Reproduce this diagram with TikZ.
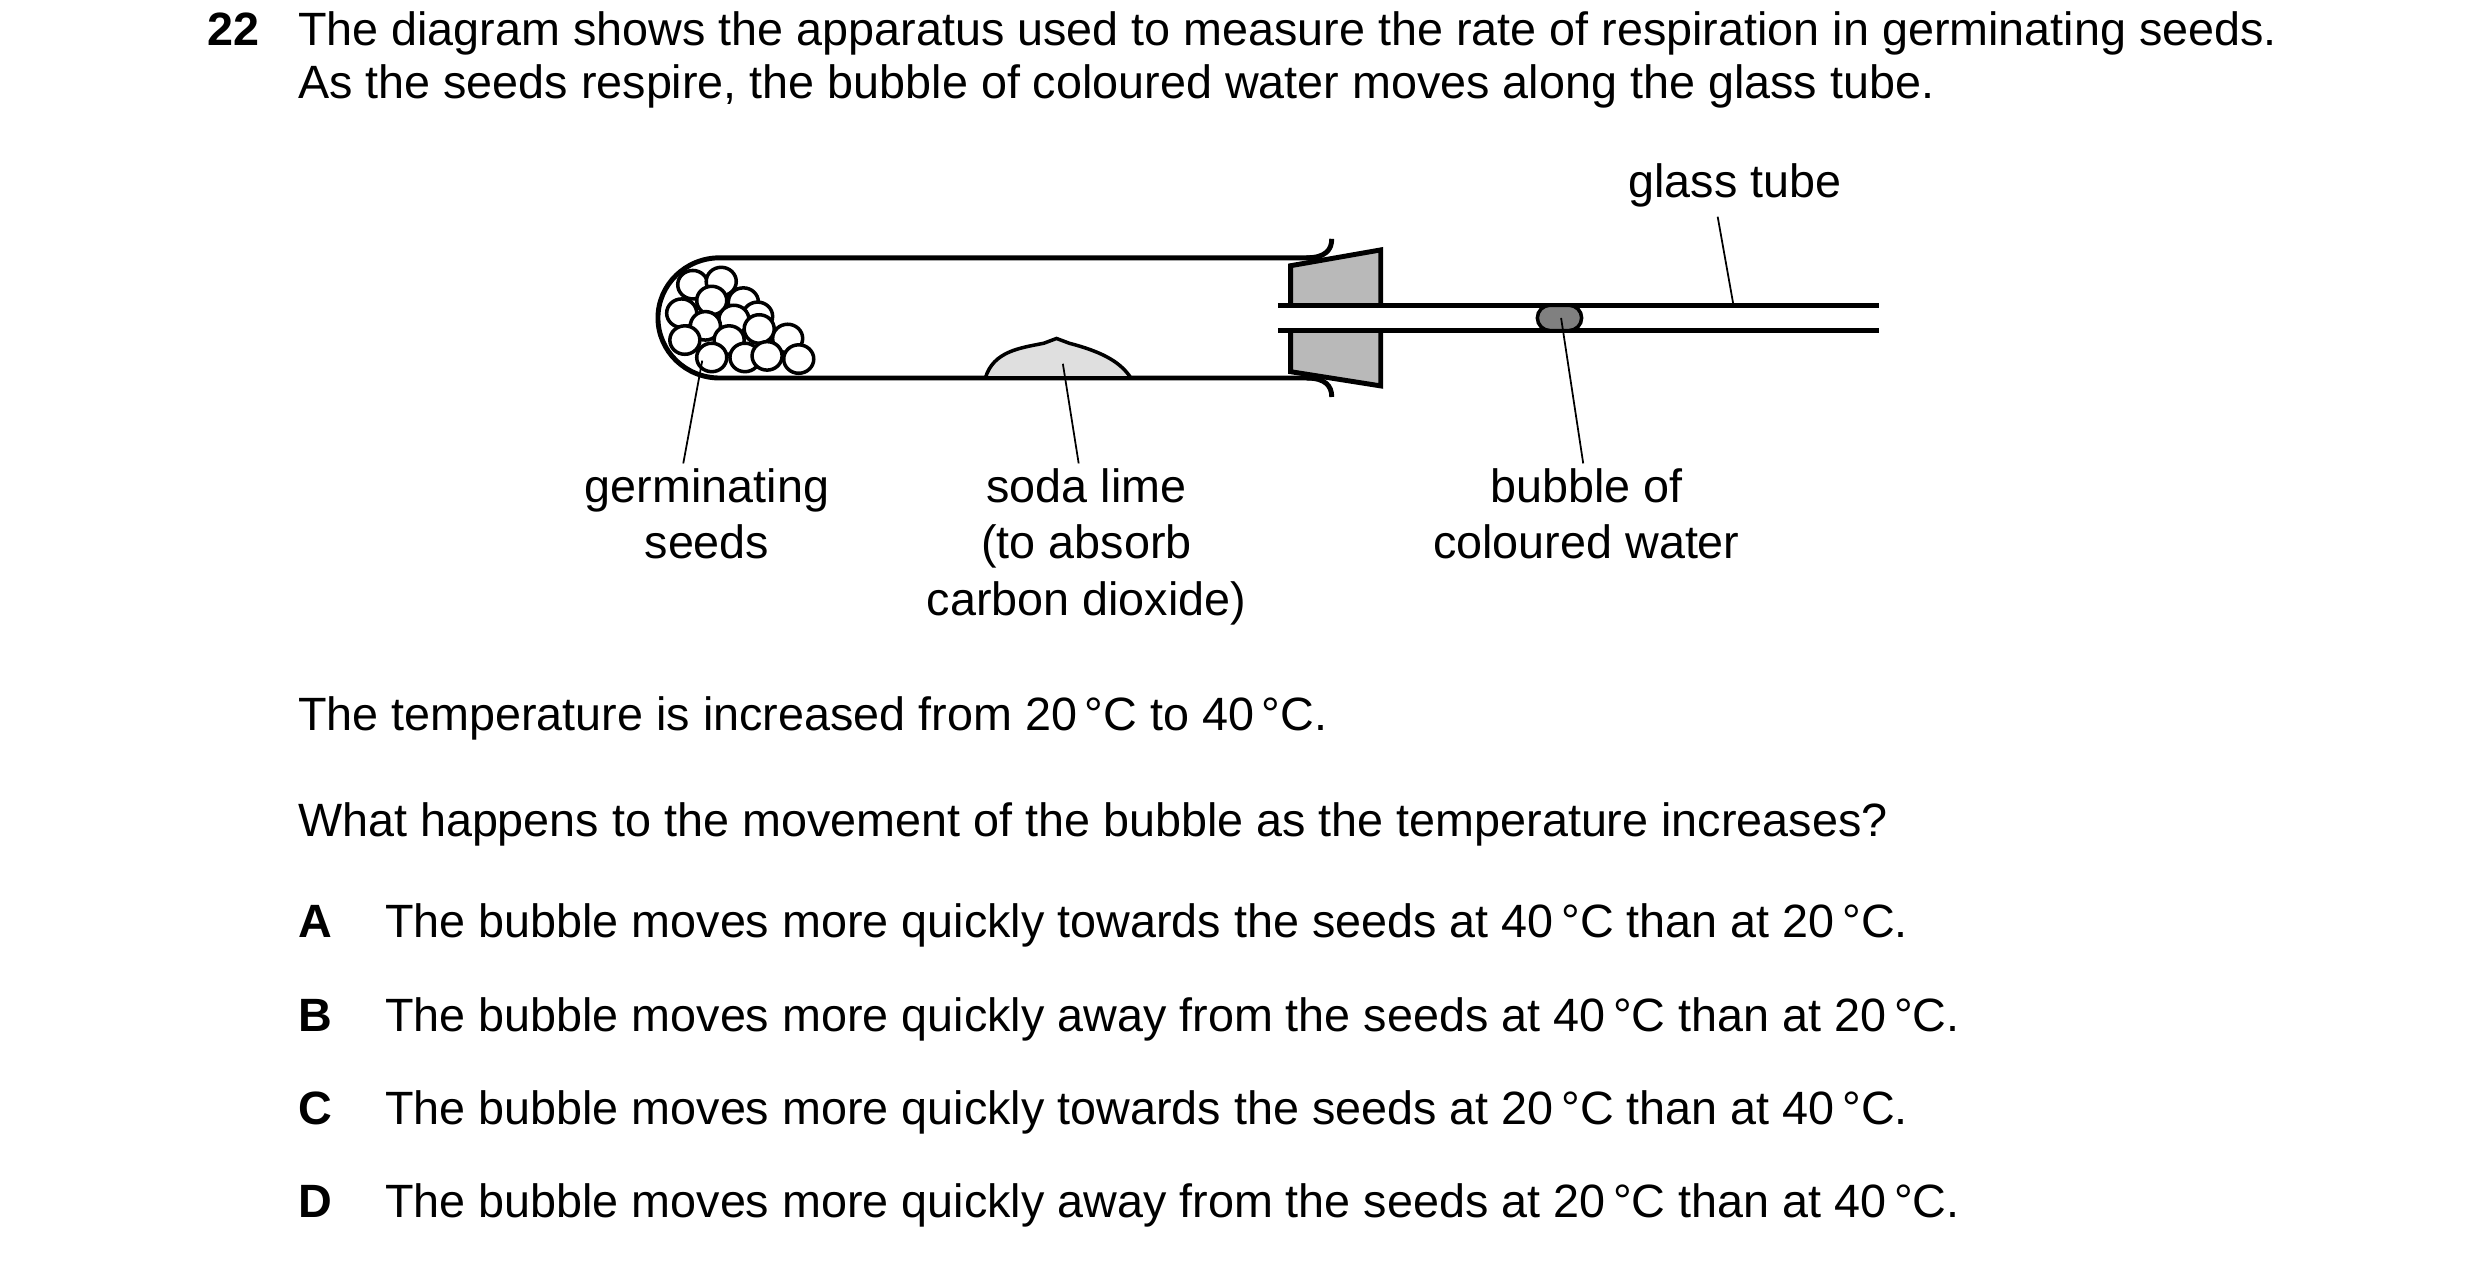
\documentclass[tikz,border=0pt]{standalone}
\usepackage{fontspec}
\setmainfont{Liberation Sans}
\begin{document}
\begin{tikzpicture}[x=0.015816cm,y=-0.015816cm,
  txt/.style={font=\fontsize{13.3}{15}\selectfont,inner sep=0pt},
  lbl/.style={txt,align=center,anchor=north},
  thick line/.style={line width=1.4pt},
  lead/.style={line width=0.5pt},
  seed/.style={line width=1pt,fill=white}]
\useasboundingbox (0,0) rectangle (1568,802);
% question text
\node[txt,anchor=base west,font=\fontsize{13.3}{15}\selectfont\bfseries] (q) at (131,29) {22};
\node[txt,anchor=base west] (l1) at (188,29) {The diagram shows the apparatus used to measure the rate of respiration in germinating seeds.};
\node[txt,anchor=base west] (l2) at (188,62) {As the seeds respire, the bubble of coloured water moves along the glass tube.};
% test tube
\draw[thick line] (836,163) -- (455,163) arc[start angle=270,end angle=90,x radius=39,y radius=38] -- (836,239);
\draw[thick line] (826,163) .. controls (838,163) and (842,158) .. (842,151);
\draw[thick line] (826,239) .. controls (838,239) and (842,244) .. (842,251);
% seeds
\foreach \x/\y in {438/180,456/178,450/190,470/191,431/198,479/200,464/202,446/206,480/208,433/215,461/215,498/214,450/226,471/226,485/225,505/227}
  \draw[seed] (\x,\y) ellipse[x radius=9.5,y radius=9];
% soda lime
\draw[line width=1pt,fill=gray!25] (623,239) .. controls (628,222) and (645,220) .. (660,217) -- (668,214) -- (676,217) .. controls (695,222) and (708,228) .. (715,239);
\draw[thick line] (620,239) -- (718,239);
% stopper
\draw[thick line,fill=gray!55] (816,193) -- (816,168) -- (873,158) -- (873,193);
\draw[thick line,fill=gray!55] (816,209) -- (816,235) -- (873,244) -- (873,209);
% glass tube
\draw[thick line] (808,193) -- (1188,193);
\draw[thick line] (808,209) -- (1188,209);
% bubble
\draw[line width=1pt,fill=gray] (980,193) -- (992,193) arc[start angle=270,end angle=450,radius=8] -- (980,209) arc[start angle=90,end angle=270,radius=8] -- cycle;
% labels
\node[lbl] (gt) at (1097,103) {glass tube};
\node[lbl] (gs) at (447,296) {germinating\\[1pt]seeds};
\node[lbl] (sl) at (687,296) {soda lime\\[1pt](to absorb\\[1pt]carbon dioxide)};
\node[lbl] (bw) at (1003,296) {bubble of\\[1pt]coloured water};
\coordinate (gtp) at (1096,193);
\coordinate (gsp) at (444,228);
\coordinate (slp) at (672,230);
\coordinate (bwp) at (987,201);
\draw[lead] (gtp) -- (1086,137);
\draw[lead] (gsp) -- (432,293);
\draw[lead] (slp) -- (682,293);
\draw[lead] (bwp) -- (1001,293);
% rest of text
\node[txt,anchor=base west] (t) at (188,462) {The temperature is increased from 20\,°C to 40\,°C.};
\node[txt,anchor=base west] (w) at (188,529) {What happens to the movement of the bubble as the temperature increases?};
\foreach \L/\yy/\s in {A/593/{The bubble moves more quickly towards the seeds at 40\,°C than at 20\,°C.},
  B/652/{The bubble moves more quickly away from the seeds at 40\,°C than at 20\,°C.},
  C/711/{The bubble moves more quickly towards the seeds at 20\,°C than at 40\,°C.},
  D/770/{The bubble moves more quickly away from the seeds at 20\,°C than at 40\,°C.}}{
  \node[txt,anchor=base west,font=\fontsize{13.3}{15}\selectfont\bfseries] (o\L) at (188,\yy) {\L};
  \node[txt,anchor=base west] (a\L) at (243,\yy) {\s};
}
\end{tikzpicture}
\end{document}
